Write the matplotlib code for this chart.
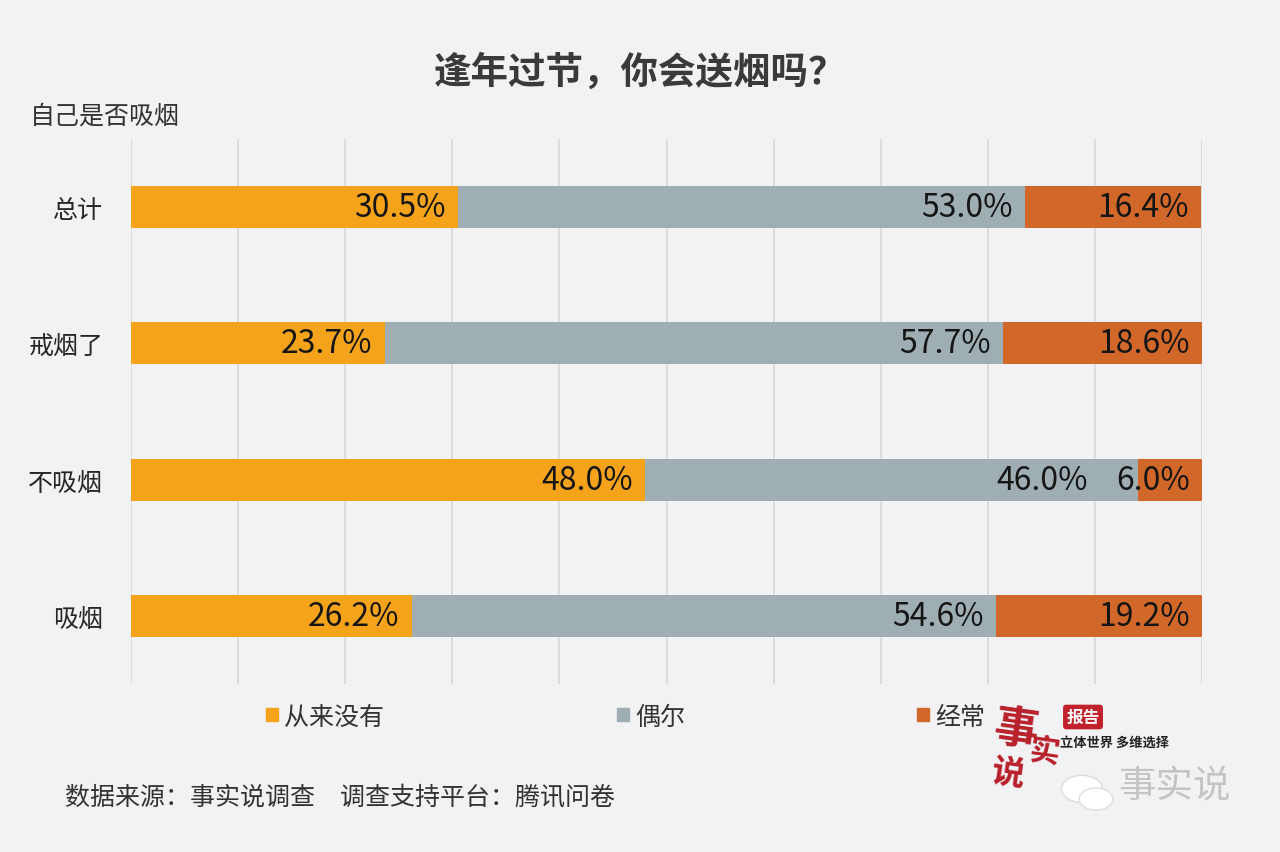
import numpy as np
import matplotlib
matplotlib.use("Agg")
import matplotlib.pyplot as plt
from matplotlib.patches import Rectangle, Circle

plt.rcParams['font.family'] = ['Noto Sans CJK SC', 'DejaVu Sans']

# === Daten ===
categories = ['总计', '戒烟了', '不吸烟', '吸烟']
never = [30.5, 23.7, 48.0, 26.2]
sometimes = [53.0, 57.7, 46.0, 54.6]
often = [16.4, 18.6, 6.0, 19.2]
series_names = ['从来没有', '偶尔', '经常']
series_colors = ['#F5A31A', '#9EAEB3', '#D2672A']

title = '逢年过节，你会送烟吗？'
axis_title = '自己是否吸烟'
source = '数据来源：事实说调查　调查支持平台：腾讯问卷'

BG = '#F2F1F3'

fig = plt.figure(figsize=(12.8, 8.53), dpi=100, facecolor=BG)
ax = fig.add_axes([131 / 1280, 1 - 685 / 853, (1202 - 131) / 1280, (685 - 140) / 853])
ax.set_facecolor(BG)

y = np.arange(len(categories))
all_series = [np.array(never), np.array(sometimes), np.array(often)]
left = np.zeros(len(categories))
for k, (vals, name, col) in enumerate(zip(all_series, series_names, series_colors)):
    ax.barh(y, vals, left=left, height=0.31, color=col, zorder=3, label=name)
    for i, (yi, l, v) in enumerate(zip(y, left, vals)):
        dx = -9
        # Label wird nach links geschoben, wenn das naechste Segment zu schmal ist
        if k + 1 < len(all_series) and all_series[k + 1][i] < 8:
            dx = -36
        ax.annotate(f'{v:.1f}%', xy=(l + v, yi), xytext=(dx, 0), textcoords='offset points',
                    ha='right', va='center', fontsize=23, color='#151515', zorder=4)
    left = left + vals

ax.set_xlim(0, 100)
ax.set_ylim(3.5, -0.5)
ax.set_xticks(np.arange(0, 101, 10))
ax.xaxis.grid(True, color='#D6D6D6', linewidth=1.1, zorder=0)
ax.tick_params(axis='x', length=0, labelbottom=False)
ax.set_yticks(y)
ax.set_yticklabels(categories, fontsize=18, color='#262626')
ax.tick_params(axis='y', length=0, pad=20)
for s in ax.spines.values():
    s.set_visible(False)

# Titel
fig.text(0.5, 1 - 72 / 853, title, ha='center', va='center', fontsize=27,
         fontweight='bold', color='#3A3A3A')
fig.text(30 / 1280, 1 - 116 / 853, axis_title, ha='left', va='center', fontsize=18,
         color='#333333')

# Legende (manuell)
leg_x = [266, 617, 917]
for lx, name, col in zip(leg_x, series_names, series_colors):
    fig.patches.append(Rectangle((lx / 1280, 1 - 722 / 853), 12 / 1280, 13 / 853,
                                 transform=fig.transFigure, color=col))
    fig.text((lx + 18) / 1280, 1 - 718 / 853, name, ha='left', va='center',
             fontsize=18, color='#333333')

# Quelle
fig.text(65 / 1280, 1 - 797 / 853, source, ha='left', va='center', fontsize=18,
         color='#333333')

# Logo (vereinfacht)
fig.text(1016 / 1280, 1 - 730 / 853, '事', ha='center', va='center', fontsize=32,
         color='#B8202A', fontweight='bold', rotation=-8)
fig.text(1045 / 1280, 1 - 752 / 853, '实', ha='center', va='center', fontsize=22,
         color='#B8202A', fontweight='bold', rotation=-8)
fig.text(1008 / 1280, 1 - 775 / 853, '说', ha='center', va='center', fontsize=24,
         color='#B8202A', fontweight='bold', rotation=-8)
fig.text(1083 / 1280, 1 - 718 / 853, '报告', ha='center', va='center', fontsize=12,
         color='white', fontweight='bold',
         bbox=dict(boxstyle='round,pad=0.2', fc='#C0212B', ec='none'))
fig.text(1115 / 1280, 1 - 743 / 853, '立体世界 多维选择', ha='center', va='center',
         fontsize=9.5, color='#222222', fontweight='bold')
fig.patches.append(Circle((1082 / 1280, 1 - 790 / 853), 0.016, transform=fig.transFigure,
                          fc='white', ec='#DDDDDD', lw=1))
fig.patches.append(Circle((1096 / 1280, 1 - 800 / 853), 0.013, transform=fig.transFigure,
                          fc='white', ec='#DDDDDD', lw=1))
fig.text(1175 / 1280, 1 - 787 / 853, '事实说', ha='center', va='center', fontsize=27,
         color='#C4C4C4')

fig.savefig('out.png', dpi=100, facecolor=BG)
